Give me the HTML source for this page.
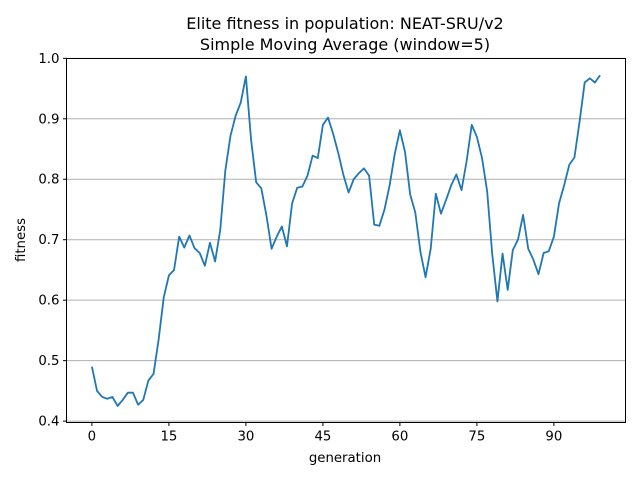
<!DOCTYPE html>
<html><head><meta charset="utf-8"><style>
body{margin:0;background:#fff;}
svg{display:block;font-family:"DejaVu Sans","Liberation Sans",sans-serif;}
</style></head><body>
<svg id="chart" width="640" height="480">
<text x="345" y="29" font-size="16" text-anchor="middle">Elite fitness in population: NEAT-SRU/v2</text>
<text x="345" y="50" font-size="16" text-anchor="middle">Simple Moving Average (window=5)</text>
<g id="grid"></g>
<g id="xticks"></g>
<g id="yticks"></g>
<path id="line" fill="none" stroke="#1f77b4" stroke-width="1.8" stroke-linejoin="round"></path>
<rect x="66.5" y="58.5" width="559" height="364" fill="none" stroke="#000" stroke-width="1"></rect>
<text x="345" y="462" font-size="13.3" text-anchor="middle">generation</text>
<text transform="translate(25,240) rotate(-90)" font-size="13.3" text-anchor="middle">fitness</text>
</svg>
<script>
const fitness = [0.49,0.45,0.44,0.437,0.44,0.425,0.435,0.447,0.447,0.427,
0.435,0.467,0.478,0.535,0.605,0.641,0.65,0.705,0.687,0.707,
0.686,0.678,0.657,0.695,0.664,0.716,0.815,0.872,0.905,0.927,
0.97,0.866,0.795,0.785,0.74,0.685,0.705,0.722,0.689,0.76,
0.786,0.788,0.806,0.839,0.835,0.89,0.902,0.875,0.843,0.807,
0.778,0.8,0.81,0.818,0.806,0.725,0.723,0.75,0.79,0.842,
0.881,0.845,0.775,0.745,0.68,0.638,0.685,0.776,0.743,0.766,
0.79,0.808,0.782,0.83,0.89,0.87,0.835,0.78,0.675,0.598,
0.677,0.617,0.683,0.7,0.741,0.685,0.667,0.643,0.678,0.681,
0.705,0.76,0.79,0.824,0.836,0.895,0.96,0.967,0.96,0.972];
const xTicks = [0,15,30,45,60,75,90];
const yTicks = [0.4,0.5,0.6,0.7,0.8,0.9,1.0];
const L=66.5,R=625.5,T=58.5,B=422.5;
const xMin=-4.95,xMax=103.95,yMin=0.3977,yMax=0.9997;
const X=v=>L+(v-xMin)/(xMax-xMin)*(R-L);
const Y=v=>B-(v-yMin)/(yMax-yMin)*(B-T);
const NS="http://www.w3.org/2000/svg";
const grid=document.getElementById('grid'),xg=document.getElementById('xticks'),yg=document.getElementById('yticks');
function mk(tag,attrs,parent){const e=document.createElementNS(NS,tag);for(const k in attrs)e.setAttribute(k,attrs[k]);parent.appendChild(e);return e;}
yTicks.forEach(v=>{
  const y=Y(v);
  const g=mk('line',{x1:L,x2:R,y1:y,y2:y,stroke:'#b0b0b0','stroke-width':1},grid);
  
  
  const t=mk('line',{x1:L-3.5,x2:L,y1:y,y2:y,stroke:'#000'},yg);
  
  
  const tx=mk('text',{x:L-7,y:y+4.5,'font-size':13.3,'text-anchor':'end'},yg);
  tx.textContent=v.toFixed(1);
  
  
});
xTicks.forEach(v=>{
  const x=X(v);
  const t=mk('line',{x1:x,x2:x,y1:B,y2:B+3.5,stroke:'#000'},xg);
  
  
  const tx=mk('text',{x:x,y:B+18,'font-size':13.3,'text-anchor':'middle'},xg);
  tx.textContent=v;
  
  
});
document.getElementById('line').setAttribute('d',fitness.map((v,i)=>(i?'L':'M')+X(i).toFixed(2)+','+Y(v).toFixed(2)).join(''));
</script>
</body></html>
